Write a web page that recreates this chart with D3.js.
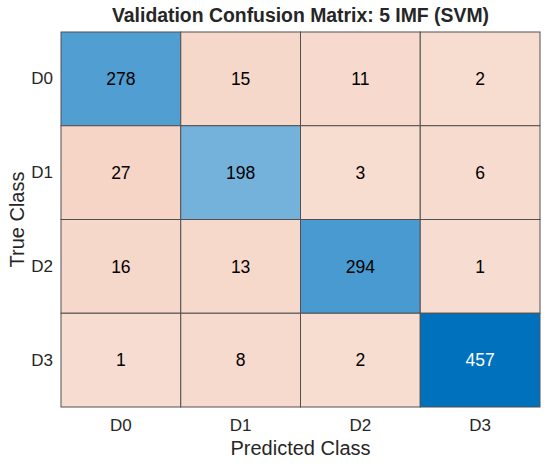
<!DOCTYPE html>
<html>
<head>
<meta charset="utf-8">
<script src="https://cdn.jsdelivr.net/npm/d3@7"></script>
<style>
  body { margin: 0; background: #fff; }
  svg text { font-family: "Liberation Sans", Arial, sans-serif; fill: #262626; }
</style>
</head>
<body>
<div id="chart"></div>
<script>
// Data
////////////////////////////////////////////////////////////////////
const trueClasses = ["D0", "D1", "D2", "D3"];
const predictedClasses = ["D0", "D1", "D2", "D3"];
const counts = [
  [278, 15, 11, 2],
  [27, 198, 3, 6],
  [16, 13, 294, 1],
  [1, 8, 2, 457],
];
const titleText = "Validation Confusion Matrix: 5 IMF (SVM)";

// Dimensions
////////////////////////////////////////////////////////////////////
const dimensions = {
  width: 550,
  height: 466,
  margin: { top: 32, bottom: 59, left: 61, right: 10 },
};
dimensions.ctrWidth = dimensions.width - dimensions.margin.left - dimensions.margin.right;
dimensions.ctrHeight = dimensions.height - dimensions.margin.top - dimensions.margin.bottom;

const svg = d3
  .select("#chart")
  .append("svg")
  .attr("width", dimensions.width)
  .attr("height", dimensions.height);

const ctr = svg
  .append("g")
  .attr("transform", `translate(${dimensions.margin.left}, ${dimensions.margin.top})`);

// Scales
////////////////////////////////////////////////////////////////////
const xScale = d3.scaleBand().domain(predictedClasses).range([0, dimensions.ctrWidth]);
const yScale = d3.scaleBand().domain(trueClasses).range([0, dimensions.ctrHeight]);

const maxCount = d3.max(counts.flat());
// MATLAB style: mix of white and class colour, at least 20% strength
const alphaScale = d3.scaleLinear().domain([0, maxCount]).range([0.2, 1]);
const diagColor = d3.interpolateRgb("#ffffff", "#0072bd");
const offColor = d3.interpolateRgb("#ffffff", "#d95319");

const cells = [];
counts.forEach((row, i) =>
  row.forEach((v, j) => cells.push({ t: trueClasses[i], p: predictedClasses[j], v, diag: i === j }))
);

// Cells
////////////////////////////////////////////////////////////////////
ctr
  .selectAll("rect")
  .data(cells)
  .join("rect")
  .attr("x", (d) => xScale(d.p))
  .attr("y", (d) => yScale(d.t))
  .attr("width", xScale.bandwidth())
  .attr("height", yScale.bandwidth())
  .attr("fill", (d) => (d.diag ? diagColor : offColor)(alphaScale(d.v)))
  .attr("stroke", "#505050")
  .attr("stroke-width", 1);

ctr
  .selectAll("text.val")
  .data(cells)
  .join("text")
  .classed("val", true)
  .attr("x", (d) => xScale(d.p) + xScale.bandwidth() / 2)
  .attr("y", (d) => yScale(d.t) + yScale.bandwidth() / 2)
  .attr("dy", "0.36em")
  .attr("text-anchor", "middle")
  .style("font-size", "17.5px")
  .style("fill", (d) => (alphaScale(d.v) > 0.85 ? "#ffffff" : "#000000"))
  .text((d) => d.v);

// Axes
////////////////////////////////////////////////////////////////////
const xAxis = d3.axisBottom(xScale).tickSize(0).tickPadding(12);
const xAxisGroup = ctr
  .append("g")
  .attr("transform", `translate(0,${dimensions.ctrHeight})`)
  .call(xAxis);
xAxisGroup.select(".domain").remove();
xAxisGroup.selectAll("text").style("font-size", "17px").style("fill", "#262626");

const yAxis = d3.axisLeft(yScale).tickSize(0).tickPadding(8);
const yAxisGroup = ctr.append("g").call(yAxis);
yAxisGroup.select(".domain").remove();
yAxisGroup.selectAll("text").style("font-size", "17px").style("fill", "#262626");

ctr
  .append("text")
  .attr("x", dimensions.ctrWidth / 2)
  .attr("y", dimensions.ctrHeight + 48)
  .attr("text-anchor", "middle")
  .style("font-size", "20px")
  .text("Predicted Class");

ctr
  .append("text")
  .attr("transform", `translate(${-dimensions.margin.left + 24}, ${dimensions.ctrHeight / 2}) rotate(-90)`)
  .attr("text-anchor", "middle")
  .style("font-size", "20px")
  .text("True Class");

// Title
svg
  .append("text")
  .attr("x", dimensions.margin.left + dimensions.ctrWidth / 2)
  .attr("y", 22)
  .attr("text-anchor", "middle")
  .style("font-size", "19.4px")
  .style("font-weight", "bold")
  .text(titleText);
</script>
</body>
</html>
